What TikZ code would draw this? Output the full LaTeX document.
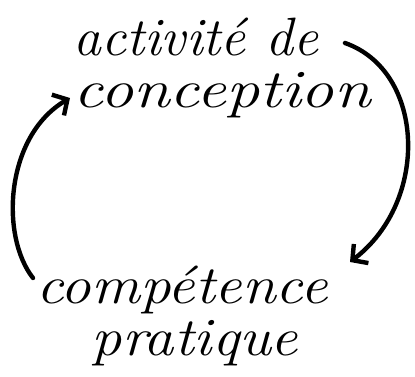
\documentclass[tikz,border=0pt]{standalone}
\usetikzlibrary{arrows.meta}
\tikzset{
  hand/.style={font=\fontsize{54}{52}\selectfont\itshape, inner sep=0pt},
  cyc/.style={line width=4.4pt, line cap=round, -{Straight Barb[length=11pt,width=24pt,line width=4.4pt]}}
}
\begin{document}
\begin{tikzpicture}[x=1pt,y=1pt]
\useasboundingbox (0,0) rectangle (415,376);
\node[hand, align=left] (top) at (222,308) {\scalebox{1.03}[1]{activité de}\\\scalebox{1.23}[1]{conception}};
\node[hand, align=center] (bot) at (182,60) {\scalebox{1.13}[1]{compétence}\\\hspace*{26pt}\scalebox{1.12}[1]{pratique}};
\coordinate (la) at (33,98);
\coordinate (lb) at (70,278);
\coordinate (ra) at (345,333);
\coordinate (rb) at (350,114);
\draw[cyc] (la) .. controls (0,140) and (5,240) .. (lb);
\draw[cyc] (ra) .. controls (425,305) and (430,175) .. (rb);
\end{tikzpicture}
\end{document}
